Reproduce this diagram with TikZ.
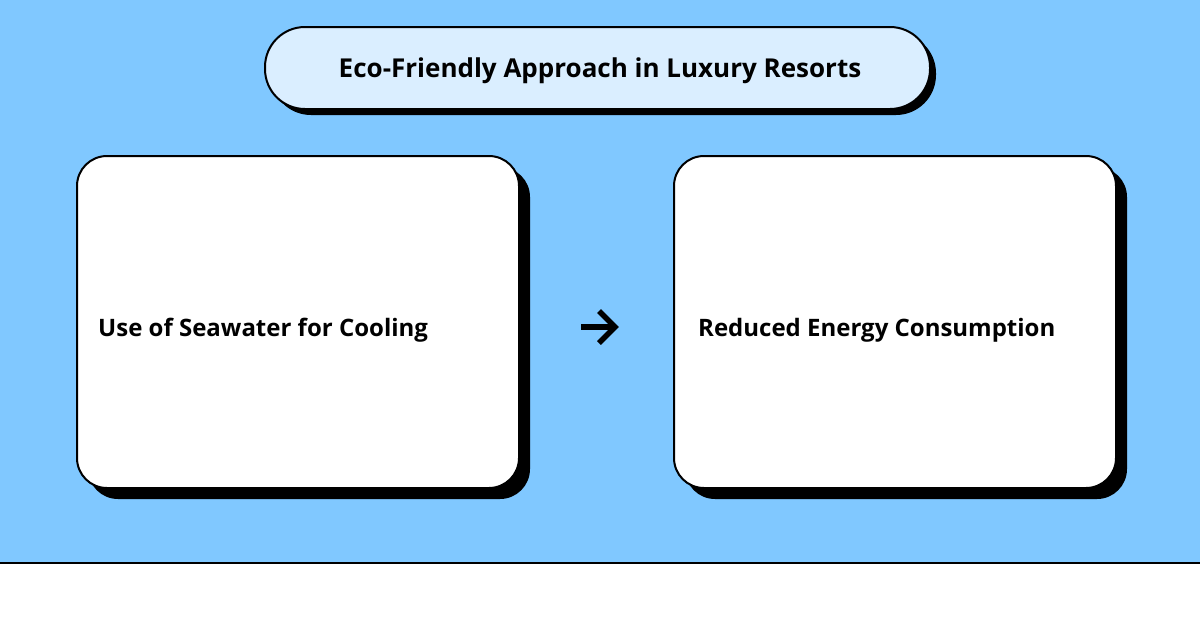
\documentclass[tikz,border=0pt]{standalone}
\usepackage{fontspec}
\setmainfont{Open Sans}
\definecolor{bgblue}{HTML}{80C8FF}
\definecolor{titlefill}{HTML}{DAEEFF}
\begin{document}
\begin{tikzpicture}[x=1pt,y=-1pt,
  card/.style={draw=black,line width=2pt,fill=white,rounded corners=30pt},
  cardshadow/.style={fill=black,rounded corners=30pt},
  lbl/.style={font=\bfseries\fontsize{24}{28}\selectfont,anchor=west,inner sep=0pt},
  arrowline/.style={line width=5.5pt}]
\useasboundingbox (0,0) rectangle (1200,630);
\fill[white] (0,0) rectangle (1200,630);
\fill[bgblue] (0,0) rectangle (1200,562);
\draw[line width=2pt] (0,563) -- (1200,563);
% title
\fill[black,rounded corners=40pt] (271,33) rectangle (936,115);
\draw[fill=titlefill,line width=2pt,rounded corners=40pt] (265,27) rectangle (930,109);
\node[font=\bfseries\fontsize{26}{30}\selectfont,inner sep=0pt] (title) at (600,71) {Eco-Friendly Approach in Luxury Resorts};
% cards
\fill[cardshadow] (88,167) rectangle (530,499);
\draw[card] (77,156) rectangle (519,488);
\fill[cardshadow] (685,167) rectangle (1127,499);
\draw[card] (674,156) rectangle (1116,488);
\node[lbl] (a) at (98,330) {Use of Seawater for Cooling};
\node[lbl] (b) at (698,330) {Reduced Energy Consumption};
\coordinate (a0) at (581,327);
\coordinate (a1) at (614,327);
\draw[arrowline] (a0) -- (a1);
\draw[arrowline,miter limit=4] (599,311) -- (615,327) -- (599,343);
\end{tikzpicture}
\end{document}
